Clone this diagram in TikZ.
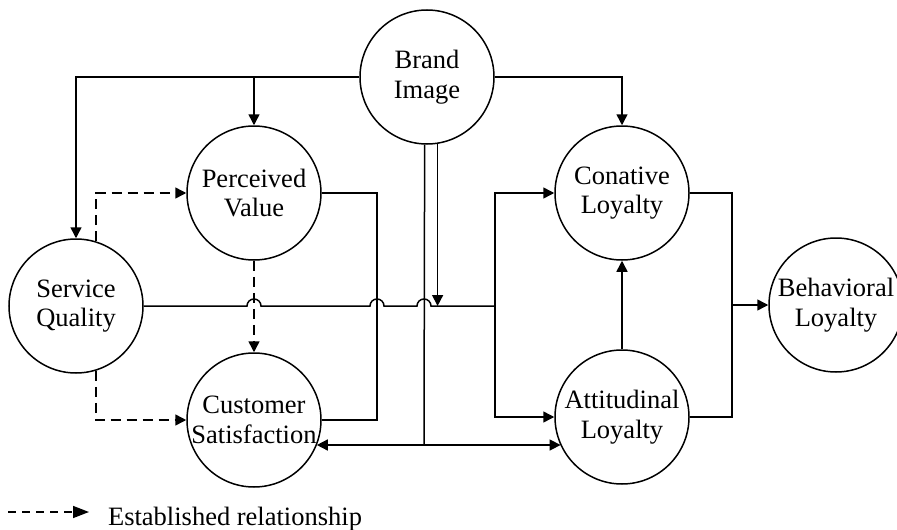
\documentclass[tikz,border=0pt]{standalone}
\usepackage{fontspec}
\setmainfont{Liberation Serif}
\usepackage{tikz}
\usetikzlibrary{arrows.meta}

\tikzset{>={Triangle[length=11pt,width=11pt]}}

\begin{document}
\begin{tikzpicture}[x=1pt,y=-1pt,line width=1.5pt]
	\useasboundingbox (0,0) rectangle (897,530);
	\begin{scope}[every node/.style={circle,draw,line width=1.5pt,minimum size=134pt,inner sep=0pt,align=center,font=\fontsize{26.5}{29.5}\selectfont}]
		\node (bi) at (427,77) {Brand\\Image};
		\node (pv) at (254,193) {Perceived\\Value};
		\node (sq) at (76,306) {Service\\Quality};
		\node (cs) at (254,420) {Customer\\Satisfaction};
		\node (cl) at (622,193) {Conative\\Loyalty};
		\node (al) at (622,417) {Attitudinal\\Loyalty};
		\node (bl) at (836,305) {Behavioral\\Loyalty};
	\end{scope}
	
	% joints of the line network
	\coordinate (jl) at (495,306);
	\coordinate (pb) at (377,306);
	\coordinate (rb) at (732,305);
	\coordinate (bj) at (424,445);
	
	% brand image on top
	\draw [->] (bi.west) -| (sq.north);
	\draw [->] (pv.north |- bi.west) -- (pv.north);
	\draw [->] (bi.east) -| (cl.north);
	
	% established paths
	\begin{scope}[dash pattern=on 10pt off 6pt]
		\draw [->] (sq.73) |- (pv.west);
		\draw [->] (sq.-73) |- (cs.west);
		\path [->] (pv) edge (cs);
	\end{scope}
	
	% service quality line, hopping over the verticals
	\draw (sq.east) -- (247,306) arc[start angle=180,end angle=0,radius=7pt]
		-- (370,306) arc[start angle=180,end angle=0,radius=7pt]
		-- (417,306) arc[start angle=180,end angle=0,radius=7pt]
		-- (jl);
	\draw (pv.east) -| (pb) |- (cs.east);
	\draw [->] (jl) |- (cl.west);
	\draw [->] (jl) |- (al.west);
	
	% brand image down
	\draw (bi.268) -- (bj);
	\draw [->] (bj) -- (cs.-22 |- bj);
	\draw [->] (bj) -- (al.205 |- bj);
	\draw [->] (bi.279) -- (bi.279 |- jl);
	
	% loyalty part
	\path [->] (al) edge (cl);
	\draw (cl.east) -| (rb) |- (al.east);
	\draw [->] (rb) -- (bl.west);
	
	% legend
	\coordinate (lga) at (8,512);
	\coordinate (lgb) at (89,512);
	\draw [-{Triangle[length=16pt,width=12pt]},dash pattern=on 8pt off 6pt] (lga) -- (lgb);
	\node [anchor=west,font=\fontsize{26.5}{29.5}\selectfont] (lgtext) at (104,519) {Established relationship};
\end{tikzpicture}
\end{document}
